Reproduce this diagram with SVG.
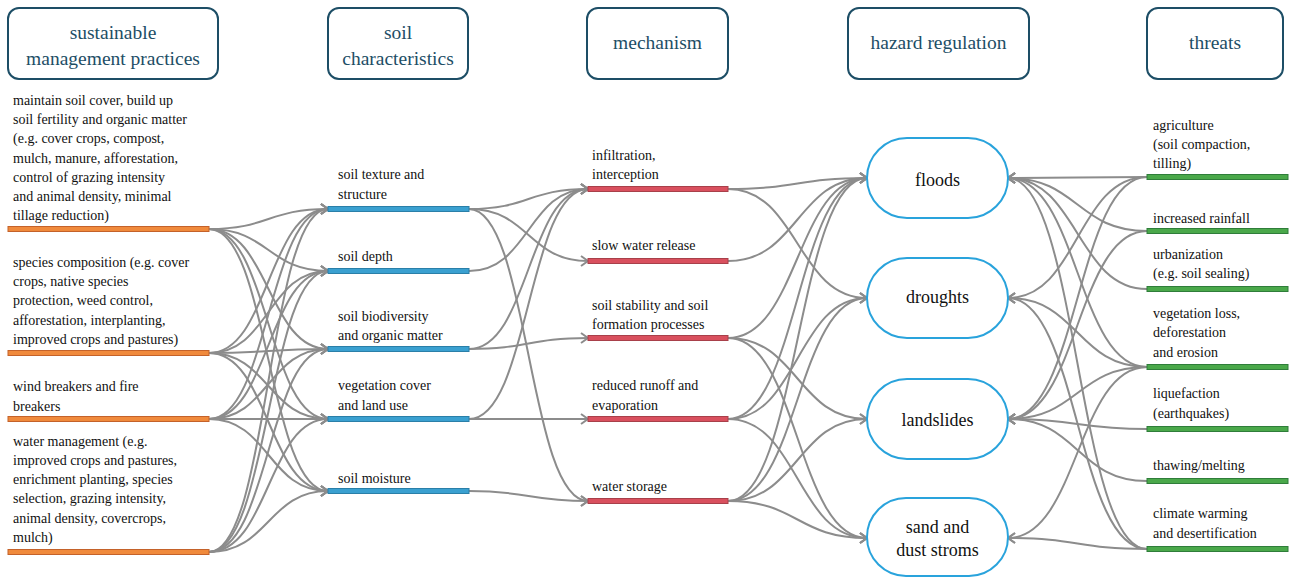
<svg xmlns="http://www.w3.org/2000/svg" width="1290" height="578" viewBox="0 0 1290 578">
<style>
.hdr rect{fill:#fff;stroke:#1d4e66;stroke-width:2}
.hdr text{font-family:"Liberation Serif","Times New Roman",Tinos,"DejaVu Serif",serif;font-size:19.5px;fill:#1d4e66;text-anchor:middle}
.lbl{font-family:"Liberation Serif","Times New Roman",Tinos,"DejaVu Serif",serif;font-size:14px;fill:#111}
.hz rect{fill:#fff;stroke:#29a3dc;stroke-width:2}
.hz text{font-family:"Liberation Serif","Times New Roman",Tinos,"DejaVu Serif",serif;font-size:18px;fill:#111;text-anchor:middle}
.o{fill:#f08a3c;stroke:#c4622a;stroke-width:1}
.b{fill:#3aa0d0;stroke:#2a7fa8;stroke-width:1}
.r{fill:#d9505e;stroke:#a8404a;stroke-width:1}
.g{fill:#4aa84a;stroke:#2f7d3a;stroke-width:1}
#conn path{fill:none;stroke:#8c8c8c;stroke-width:2;marker-end:url(#a)}
</style>
<defs>
<marker id="a" markerWidth="10" markerHeight="12" viewBox="-9 -6 10 12" refX="0" refY="0" orient="auto" markerUnits="userSpaceOnUse"><path d="M-7,-5 L0,0 L-7,5" fill="none" stroke="#8c8c8c" stroke-width="2"/></marker>
</defs>
<rect width="1290" height="578" fill="#fff"/>

<g id="headers" class="hdr">
<g id="h1"><rect x="8" y="8" width="210" height="71" rx="11"/><text x="113" y="39" font-family="Liberation Serif, serif">sustainable</text><text x="113" y="65" font-family="Liberation Serif, serif">management practices</text></g>
<g id="h2"><rect x="328" y="8" width="140" height="71" rx="11"/><text x="398" y="39">soil</text><text x="398" y="65">characteristics</text></g>
<g id="h3"><rect x="587" y="8" width="141" height="71" rx="11"/><text x="657.5" y="49">mechanism</text></g>
<g id="h4"><rect x="848" y="8" width="181" height="71" rx="11"/><text x="938.5" y="49">hazard regulation</text></g>
<g id="h5"><rect x="1147" y="8" width="136" height="71" rx="11"/><text x="1215" y="49">threats</text></g>
</g>

<g id="conn">
<path d="M209,229 C269,229 268,209 328,209"/>
<path d="M209,229 C269,229 268,271 328,271"/>
<path d="M209,229 C269,229 268,349 328,349"/>
<path d="M209,229 C269,229 268,419 328,419"/>
<path d="M209,229 C269,229 268,491 328,491"/>
<path d="M209,353 C269,353 268,209 328,209"/>
<path d="M209,353 C269,353 268,271 328,271"/>
<path d="M209,353 C269,353 268,349 328,349"/>
<path d="M209,353 C269,353 268,419 328,419"/>
<path d="M209,353 C269,353 268,491 328,491"/>
<path d="M209,419 C269,419 268,209 328,209"/>
<path d="M209,419 C269,419 268,271 328,271"/>
<path d="M209,419 C269,419 268,349 328,349"/>
<path d="M209,419 C269,419 268,419 328,419"/>
<path d="M209,419 C269,419 268,491 328,491"/>
<path d="M209,552 C269,552 268,209 328,209"/>
<path d="M209,552 C269,552 268,271 328,271"/>
<path d="M209,552 C269,552 268,349 328,349"/>
<path d="M209,552 C269,552 268,419 328,419"/>
<path d="M209,552 C269,552 268,491 328,491"/>
<path d="M469,209 C529,209 528,189 588,189"/>
<path d="M469,209 C529,209 528,261 588,261"/>
<path d="M469,209 C529,209 528,501 588,501"/>
<path d="M469,271 C529,271 528,189 588,189"/>
<path d="M469,349 C529,349 528,189 588,189"/>
<path d="M469,349 C529,349 528,338 588,338"/>
<path d="M469,419 C529,419 528,189 588,189"/>
<path d="M469,419 C529,419 528,419 588,419"/>
<path d="M469,491 C529,491 528,501 588,501"/>
<path d="M728,189 C798,189 797,178 867,178"/>
<path d="M728,189 C798,189 797,298 867,298"/>
<path d="M728,261 C798,261 797,178 867,178"/>
<path d="M728,338 C798,338 797,178 867,178"/>
<path d="M728,338 C798,338 797,419 867,419"/>
<path d="M728,338 C798,338 797,538 867,538"/>
<path d="M728,419 C798,419 797,178 867,178"/>
<path d="M728,419 C798,419 797,298 867,298"/>
<path d="M728,419 C798,419 797,538 867,538"/>
<path d="M728,501 C798,501 797,178 867,178"/>
<path d="M728,501 C798,501 797,298 867,298"/>
<path d="M728,501 C798,501 797,419 867,419"/>
<path d="M728,501 C798,501 797,538 867,538"/>
<path d="M1147,177 C1077,177 1078,178 1008,178"/>
<path d="M1147,177 C1077,177 1078,298 1008,298"/>
<path d="M1147,177 C1077,177 1078,419 1008,419"/>
<path d="M1147,231 C1077,231 1078,178 1008,178"/>
<path d="M1147,231 C1077,231 1078,419 1008,419"/>
<path d="M1147,289 C1077,289 1078,178 1008,178"/>
<path d="M1147,367 C1077,367 1078,178 1008,178"/>
<path d="M1147,367 C1077,367 1078,298 1008,298"/>
<path d="M1147,367 C1077,367 1078,419 1008,419"/>
<path d="M1147,367 C1077,367 1078,538 1008,538"/>
<path d="M1147,429 C1077,429 1078,419 1008,419"/>
<path d="M1147,481 C1077,481 1078,419 1008,419"/>
<path d="M1147,549 C1077,549 1078,178 1008,178"/>
<path d="M1147,549 C1077,549 1078,298 1008,298"/>
<path d="M1147,549 C1077,549 1078,538 1008,538"/>
</g>

<g id="practices">
<g id="p1"><text class="lbl"><tspan x="13" y="105">maintain soil cover, build up</tspan><tspan x="13" y="124">soil fertility and organic matter</tspan><tspan x="13" y="143">(e.g. cover crops, compost,</tspan><tspan x="13" y="163">mulch, manure, afforestation,</tspan><tspan x="13" y="182">control of grazing intensity</tspan><tspan x="13" y="201">and animal density, minimal</tspan><tspan x="13" y="220">tillage reduction)</tspan></text><rect class="o" x="8" y="226.5" width="201" height="5"/></g>
<g id="p2"><text class="lbl"><tspan x="13" y="267">species composition (e.g. cover</tspan><tspan x="13" y="286">crops, native species</tspan><tspan x="13" y="305">protection, weed control,</tspan><tspan x="13" y="325">afforestation, interplanting,</tspan><tspan x="13" y="344">improved crops and pastures)</tspan></text><rect class="o" x="8" y="350.5" width="201" height="5"/></g>
<g id="p3"><text class="lbl"><tspan x="13" y="391">wind breakers and fire</tspan><tspan x="13" y="411">breakers</tspan></text><rect class="o" x="8" y="416.5" width="201" height="5"/></g>
<g id="p4"><text class="lbl"><tspan x="13" y="446">water management (e.g.</tspan><tspan x="13" y="465">improved crops and pastures,</tspan><tspan x="13" y="484">enrichment planting, species</tspan><tspan x="13" y="503">selection, grazing intensity,</tspan><tspan x="13" y="523">animal density, covercrops,</tspan><tspan x="13" y="542">mulch)</tspan></text><rect class="o" x="8" y="549.5" width="201" height="5"/></g>
</g>

<g id="soil">
<g id="s1"><text class="lbl"><tspan x="338" y="179">soil texture and</tspan><tspan x="338" y="199">structure</tspan></text><rect class="b" x="328" y="206.5" width="141" height="5"/></g>
<g id="s2"><text class="lbl" x="338" y="261">soil depth</text><rect class="b" x="328" y="268.5" width="141" height="5"/></g>
<g id="s3"><text class="lbl"><tspan x="338" y="321">soil biodiversity</tspan><tspan x="338" y="340">and organic matter</tspan></text><rect class="b" x="328" y="346.5" width="141" height="5"/></g>
<g id="s4"><text class="lbl"><tspan x="338" y="390">vegetation cover</tspan><tspan x="338" y="410">and land use</tspan></text><rect class="b" x="328" y="416.5" width="141" height="5"/></g>
<g id="s5"><text class="lbl" x="338" y="483">soil moisture</text><rect class="b" x="328" y="488.5" width="141" height="5"/></g>
</g>

<g id="mech">
<g id="m1"><text class="lbl"><tspan x="592" y="160">infiltration,</tspan><tspan x="592" y="179">interception</tspan></text><rect class="r" x="588" y="186.5" width="140" height="5"/></g>
<g id="m2"><text class="lbl" x="592" y="250">slow water release</text><rect class="r" x="588" y="258.5" width="140" height="5"/></g>
<g id="m3"><text class="lbl"><tspan x="592" y="310">soil stability and soil</tspan><tspan x="592" y="329">formation processes</tspan></text><rect class="r" x="588" y="335.5" width="140" height="5"/></g>
<g id="m4"><text class="lbl"><tspan x="592" y="390">reduced runoff and</tspan><tspan x="592" y="410">evaporation</tspan></text><rect class="r" x="588" y="416.5" width="140" height="5"/></g>
<g id="m5"><text class="lbl" x="592" y="491">water storage</text><rect class="r" x="588" y="498.5" width="140" height="5"/></g>
</g>

<g id="hazards" class="hz">
<g id="hz1"><rect x="867" y="138" width="141" height="80" rx="40"/><text x="937.5" y="186">floods</text></g>
<g id="hz2"><rect x="867" y="258" width="141" height="80" rx="40"/><text x="937.5" y="303">droughts</text></g>
<g id="hz3"><rect x="867" y="379" width="141" height="80" rx="40"/><text x="937.5" y="426">landslides</text></g>
<g id="hz4"><rect x="867" y="498" width="141" height="78" rx="39"/><text x="937.5" y="533">sand and</text><text x="937.5" y="556">dust stroms</text></g>
</g>

<g id="threats">
<g id="t1"><text class="lbl"><tspan x="1153" y="130">agriculture</tspan><tspan x="1153" y="149">(soil compaction,</tspan><tspan x="1153" y="168">tilling)</tspan></text><rect class="g" x="1147" y="174.5" width="141" height="5"/></g>
<g id="t2"><text class="lbl" x="1153" y="223">increased rainfall</text><rect class="g" x="1147" y="228.5" width="141" height="5"/></g>
<g id="t3"><text class="lbl"><tspan x="1153" y="259">urbanization</tspan><tspan x="1153" y="278">(e.g. soil sealing)</tspan></text><rect class="g" x="1147" y="286.5" width="141" height="5"/></g>
<g id="t4"><text class="lbl"><tspan x="1153" y="318">vegetation loss,</tspan><tspan x="1153" y="337">deforestation</tspan><tspan x="1153" y="357">and erosion</tspan></text><rect class="g" x="1147" y="364.5" width="141" height="5"/></g>
<g id="t5"><text class="lbl"><tspan x="1153" y="398">liquefaction</tspan><tspan x="1153" y="418">(earthquakes)</tspan></text><rect class="g" x="1147" y="426.5" width="141" height="5"/></g>
<g id="t6"><text class="lbl" x="1153" y="470">thawing/melting</text><rect class="g" x="1147" y="478.5" width="141" height="5"/></g>
<g id="t7"><text class="lbl"><tspan x="1153" y="518">climate warming</tspan><tspan x="1153" y="538">and desertification</tspan></text><rect class="g" x="1147" y="546.5" width="141" height="5"/></g>
</g>
</svg>
